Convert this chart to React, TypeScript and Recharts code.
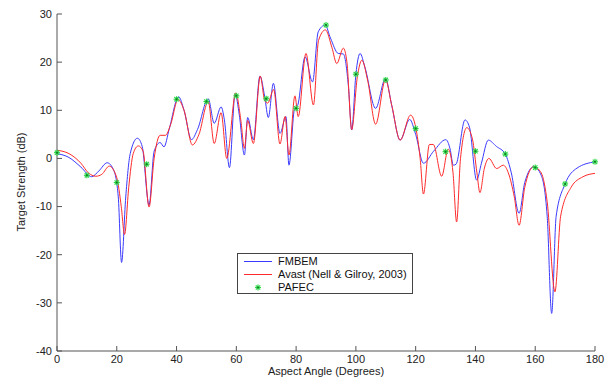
import { ComposedChart, Line, Scatter, XAxis, YAxis, Label } from 'recharts';

const xTicks = [0, 20, 40, 60, 80, 100, 120, 140, 160, 180];
const yTicks = [-40, -30, -20, -10, 0, 10, 20, 30];

const fmbemAngles = [0, 4, 8, 11.6, 14, 16.8, 19, 20.5, 21.6, 23, 24.5, 26.9, 28.5, 30.8, 32.5, 34.5, 35.8, 37.5, 40.7, 42.5, 45, 47, 50.6, 52.6, 54.9, 56, 57.7, 59.6, 61, 62.7, 63.8, 65.7, 67.9, 69.5, 70.7, 72.4, 74.6, 76.6, 77.6, 79.5, 80.5, 83, 85.5, 87.4, 89.7, 91.5, 94.1, 95.8, 97.5, 98.6, 100, 101.4, 103, 106.6, 109.9, 112, 114.8, 118, 120, 122.6, 126, 130.1, 131.5, 132.6, 133.5, 136.5, 138, 140.4, 142, 144.3, 147, 150, 152, 154.6, 156.5, 159.5, 162, 164, 165.5, 167, 170, 174, 180];
const fmbemValues = [1.0, 0.2, -1.8, -3.8, -2.6, -0.9, -2.5, -8, -21.6, -8, 1, 4.2, 2.5, -9.7, 1.5, 3.3, 2.4, 6, 12.8, 10, 3.9, 6, 12.4, 7.3, 10.7, 8, -1.9, 13.4, 9, 0.7, 8.5, 3.9, 17.1, 12.8, 8.5, 15.6, 5.2, 8.7, -1.4, 10.4, 11, 21.1, 15.9, 26.3, 27.7, 25, 21.8, 21.7, 15, 5.9, 17.5, 21.8, 19, 10.4, 16.6, 11, 3.8, 8.1, 5, -1.0, 1.5, 3.9, 2, -1.4, -1.2, 8.0, 6.5, -4.5, -1, 3.8, 2.5, 0.9, -3, -11.4, -5, -1.7, -3.5, -12, -32.2, -12, -5.3, -2, -0.7];

const avastAngles = [0, 4, 8, 10.5, 13, 15, 17.5, 20, 21.5, 22.6, 24, 25.5, 27.2, 28.8, 30.8, 32.5, 34.5, 36.3, 38, 40.5, 42.5, 45.3, 47.5, 50.6, 52.6, 54.9, 56.8, 59.8, 61.5, 62.7, 63.8, 65.7, 68, 69.5, 70.5, 72.5, 74.6, 76.3, 77.6, 79.6, 80.7, 83.3, 85.8, 87.5, 89.8, 92, 93.6, 95.8, 97, 98.6, 100.5, 102, 104, 106.6, 109.9, 112, 114.8, 118.3, 120, 121.5, 122.6, 124.6, 125.9, 128.7, 130.9, 132.5, 133.7, 135, 137.1, 139, 140.5, 141.5, 143, 144.5, 147.1, 149.3, 151, 153, 154.6, 156.5, 159.5, 162, 164, 166.6, 168.5, 172, 176, 180];
const avastValues = [1.7, 1.0, -1.0, -3, -3.7, -3.3, -1.6, -4, -10, -15.8, -6, 1, 2.6, 1.5, -10.1, 0, 4.8, 4.8, 7, 12.2, 10, 2.8, 5, 11.8, 3.1, 9.5, 0.0, 13.6, 8, 2.1, 7.9, 3.1, 17.1, 12, 11.5, 14.3, 3.0, 8.7, 0.7, 13.0, 8.7, 21.8, 11.1, 24.5, 26.7, 23, 19.7, 22.9, 20, 6, 17, 20.4, 16, 7.1, 16.3, 11, 3.8, 9.0, 6.5, 0, -7.4, 2.9, 2.9, -3.7, 1.9, -3, -13.2, 0, 6.4, 4, -3, -7.1, -2, 0.0, -2.1, -1.4, -3, -8, -13.9, -6, -1.7, -3, -9, -27.7, -12, -6, -3.8, -3.1];

const pafecAngles = [0, 10, 20, 30, 40, 50, 60, 70, 80, 90, 100, 110, 120, 130, 140, 150, 160, 170, 180];
const pafecValues = [1.2, -3.5, -5, -1.2, 12.3, 11.8, 13.0, 12.4, 10.4, 27.7, 17.5, 16.3, 6.2, 1.4, 1.5, 0.9, -1.9, -5.3, -0.7];

const fmbemData = fmbemAngles.map((x, i) => ({ x, y: fmbemValues[i] }));
const avastData = avastAngles.map((x, i) => ({ x, y: avastValues[i] }));
const pafecData = pafecAngles.map((x, i) => ({ x, y: pafecValues[i] }));

const BLUE = '#3a3aff';
const RED = '#ff2a2a';
const GREEN = '#2fd84a';
const AXIS = '#555';
const font = { fontFamily: 'Liberation Sans, Arial, sans-serif', fontSize: 11, fill: '#222' };

const Asterisk = (props: any) => {
  const { cx, cy } = props;
  if (cx == null || cy == null) return null;
  const r = 3;
  return (
    <g stroke={GREEN} strokeWidth={1.2}>
      <line x1={cx - r} y1={cy} x2={cx + r} y2={cy} />
      <line x1={cx} y1={cy - r} x2={cx} y2={cy + r} />
      <line x1={cx - 2.2} y1={cy - 2.2} x2={cx + 2.2} y2={cy + 2.2} />
      <line x1={cx - 2.2} y1={cy + 2.2} x2={cx + 2.2} y2={cy - 2.2} />
      <circle cx={cx} cy={cy} r={1} fill="#117722" stroke="none" />
    </g>
  );
};

const row = { display: 'flex', alignItems: 'center', height: 13 };
const sample = (c: string) => ({ width: 28, height: 0, borderTop: `1px solid ${c}`, marginRight: 6 });

const LegendBox = () => (
  <div style={{ position: 'absolute', left: 237, top: 253, border: '1px solid #444', background: '#fff', width: 176, height: 41, boxSizing: 'border-box', padding: '1px 0 0 6px', fontFamily: 'Liberation Sans, Arial, sans-serif', fontSize: 11, color: '#111', lineHeight: '13px' }}>
    <div style={row}><span style={sample(BLUE)} />FMBEM</div>
    <div style={row}><span style={sample(RED)} />Avast (Nell &amp; Gilroy, 2003)</div>
    <div style={row}><svg width={28} height={13} style={{ marginRight: 6 }}><Asterisk cx={14} cy={6.5} /></svg>PAFEC</div>
  </div>
);

const App = () => {
  return (
    <div style={{ position: 'absolute', left: 0, top: 0, width: 613, height: 378, background: '#fff' }}>
      <ComposedChart width={613} height={378} margin={{ top: 14, right: 18, bottom: 0, left: 0 }}>
        <XAxis xAxisId={0} dataKey="x" type="number" domain={[0, 180]} ticks={xTicks} height={27}
          tickSize={-5} tickMargin={9} stroke={AXIS} tick={font}>
          <Label content={() => (
            <text x={326} y={375} textAnchor="middle" style={{ ...font, fontSize: 11 }}>Aspect Angle (Degrees)</text>
          )} />
        </XAxis>
        <XAxis xAxisId="top" orientation="top" type="number" domain={[0, 180]} ticks={xTicks} height={0}
          tickSize={-5} tickFormatter={() => ''} stroke={AXIS} />
        <YAxis yAxisId={0} type="number" domain={[-40, 30]} ticks={yTicks} width={57}
          tickSize={-5} tickMargin={10} stroke={AXIS} tick={font}>
          <Label content={() => (
            <text x={25} y={182} transform="rotate(-90 25 182)" textAnchor="middle" style={{ ...font, fontSize: 11 }}>Target Strength (dB)</text>
          )} />
        </YAxis>
        <YAxis yAxisId="right" orientation="right" type="number" domain={[-40, 30]} ticks={yTicks} width={0}
          tickSize={-5} tickFormatter={() => ''} stroke={AXIS} />
        <Line data={fmbemData} dataKey="y" type="monotone" stroke={BLUE} strokeWidth={1} dot={false} isAnimationActive={false} name="FMBEM" />
        <Line data={avastData} dataKey="y" type="monotone" stroke={RED} strokeWidth={1} dot={false} isAnimationActive={false} name="Avast (Nell & Gilroy, 2003)" />
        <Scatter data={pafecData} dataKey="y" shape={<Asterisk />} isAnimationActive={false} name="PAFEC" />
      </ComposedChart>
      <LegendBox />
    </div>
  );
};

export default App;
